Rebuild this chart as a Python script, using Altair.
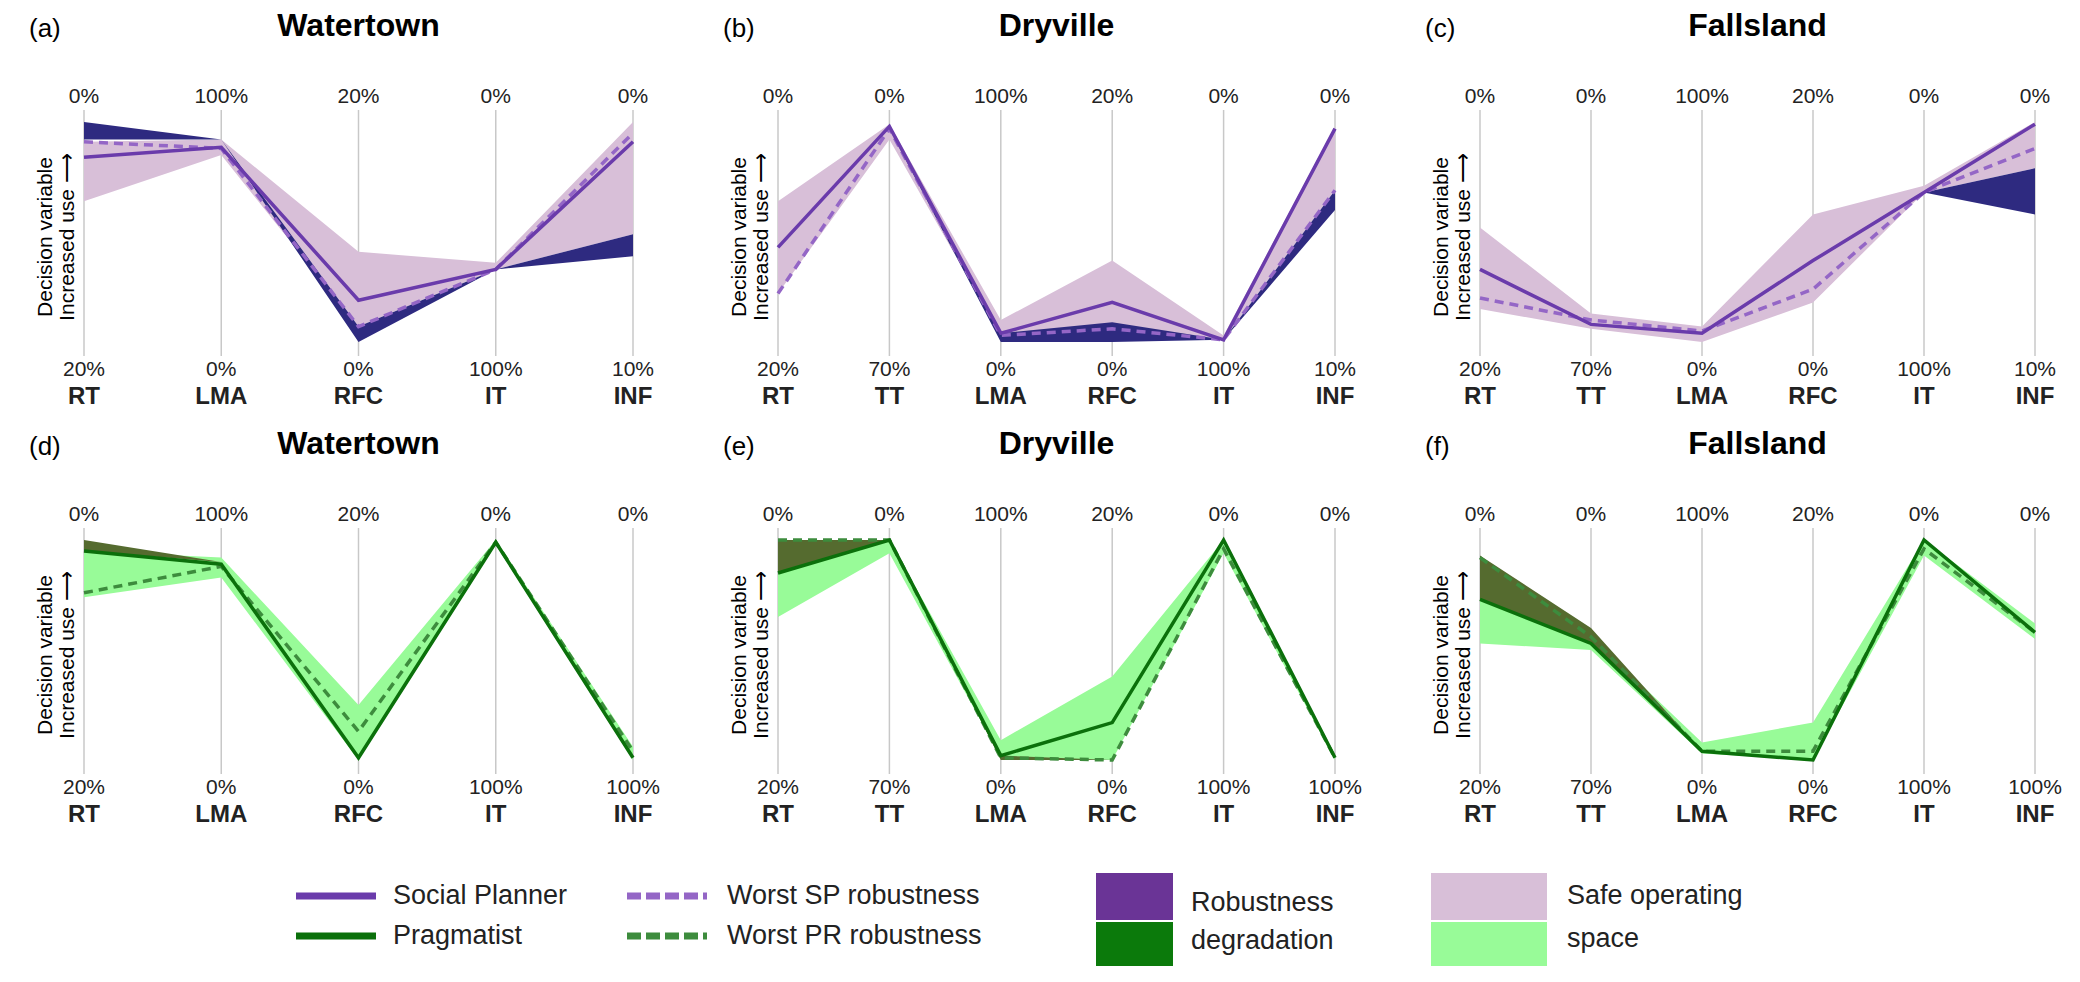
import altair as alt
import pandas as pd

FONT = "Liberation Sans"

# eixos de cada painel
nomes_5 = ["RT", "LMA", "RFC", "IT", "INF"]
nomes_6 = ["RT", "TT", "LMA", "RFC", "IT", "INF"]
topo_5 = ["0%", "100%", "20%", "0%", "0%"]
topo_6 = ["0%", "0%", "100%", "20%", "0%", "0%"]
base_a = ["20%", "0%", "0%", "100%", "10%"]
base_bc = ["20%", "70%", "0%", "0%", "100%", "10%"]
base_d = ["20%", "0%", "0%", "100%", "100%"]
base_ef = ["20%", "70%", "0%", "0%", "100%", "100%"]

# (a) Watertown - Social Planner
a_sp = [0.84, 0.885, 0.19, 0.33, 0.91]
a_worst = [0.91, 0.88, 0.07, 0.33, 0.95]
a_safe_hi = [0.91, 0.92, 0.41, 0.36, 1.0]
a_safe_lo = [0.64, 0.85, 0.07, 0.33, 0.49]
a_dark_hi = [1.0, 0.92, 0.07, 0.33, 0.49]
a_dark_lo = [0.92, 0.92, 0.0, 0.33, 0.39]
# (b) Dryville
b_sp = [0.43, 0.98, 0.04, 0.18, 0.01, 0.97]
b_worst = [0.22, 0.97, 0.03, 0.06, 0.01, 0.69]
b_safe_hi = [0.64, 0.99, 0.1, 0.37, 0.03, 0.98]
b_safe_lo = [0.22, 0.92, 0.03, 0.06, 0.01, 0.69]
b_dark_hi = [0.22, 0.97, 0.04, 0.09, 0.01, 0.69]
b_dark_lo = [0.22, 0.97, 0.0, 0.0, 0.01, 0.6]
# (c) Fallsland
c_sp = [0.33, 0.08, 0.04, 0.37, 0.68, 0.99]
c_worst = [0.2, 0.1, 0.05, 0.24, 0.68, 0.88]
c_safe_hi = [0.52, 0.13, 0.07, 0.58, 0.71, 1.0]
c_safe_lo = [0.15, 0.06, 0.0, 0.18, 0.68, 0.79]
c_dark_hi = [0.15, 0.06, 0.0, 0.18, 0.68, 0.79]
c_dark_lo = [0.15, 0.06, 0.0, 0.18, 0.68, 0.58]
# (d) Watertown - Pragmatist
d_sp = [0.95, 0.89, 0.01, 0.99, 0.01]
d_worst = [0.76, 0.88, 0.13, 0.99, 0.04]
d_safe_hi = [0.95, 0.92, 0.25, 1.0, 0.06]
d_safe_lo = [0.74, 0.83, 0.0, 0.98, 0.0]
d_dark_hi = [1.0, 0.9, 0.01, 0.99, 0.01]
d_dark_lo = [0.95, 0.9, 0.01, 0.99, 0.01]
# (e) Dryville
e_sp = [0.85, 1.0, 0.02, 0.17, 1.0, 0.01]
e_worst = [1.0, 1.0, 0.01, 0.0, 0.96, 0.01]
e_safe_hi = [0.85, 1.0, 0.09, 0.38, 1.0, 0.02]
e_safe_lo = [0.65, 0.94, 0.01, 0.0, 0.94, 0.0]
e_dark_hi = [1.0, 1.0, 0.02, 0.0, 1.0, 0.01]
e_dark_lo = [0.85, 1.0, 0.0, 0.0, 1.0, 0.01]
# (f) Fallsland
f_sp = [0.73, 0.53, 0.04, 0.0, 1.0, 0.58]
f_worst = [0.92, 0.56, 0.04, 0.04, 0.96, 0.58]
f_safe_hi = [0.73, 0.56, 0.08, 0.17, 1.0, 0.62]
f_safe_lo = [0.53, 0.5, 0.03, 0.0, 0.93, 0.55]
f_dark_hi = [0.93, 0.6, 0.04, 0.0, 1.0, 0.58]
f_dark_lo = [0.73, 0.53, 0.04, 0.0, 1.0, 0.58]

ROXO = dict(sp="#6a3bab", worst="#9466c6", safe="#d8bfd8", dark="#2e2a80")
VERDE = dict(sp="#0b700b", worst="#3d8c3d", safe="#98fb98", dark="#556b2f")
H = 220


def painel(letra, titulo, nomes, topo, base, sp, worst, shi, slo, dhi, dlo, cores, largura):
    n = len(nomes)
    df = pd.DataFrame(dict(i=list(range(n)), nome=nomes, topo=topo, base=base, sp=sp, worst=worst,
                           shi=shi, slo=slo, dhi=dhi, dlo=dlo))
    x = alt.X("i:Q", scale=alt.Scale(domain=[0, n - 1], nice=False), axis=None)
    ysc = alt.Scale(domain=[0, 1], nice=False)
    c = alt.Chart(df)
    regras = c.mark_rule(color="#c8c8c8", strokeWidth=1.5).encode(x=x, y=alt.value(-12), y2=alt.value(H + 14))
    seguro = c.mark_area(color=cores["safe"], opacity=1).encode(
        x=x, y=alt.Y("shi:Q", scale=ysc, axis=None), y2="slo:Q")
    escuro = c.mark_area(color=cores["dark"], opacity=1).encode(
        x=x, y=alt.Y("dhi:Q", scale=ysc, axis=None), y2="dlo:Q")
    l_sp = c.mark_line(color=cores["sp"], strokeWidth=3.5).encode(x=x, y=alt.Y("sp:Q", scale=ysc, axis=None))
    l_w = c.mark_line(color=cores["worst"], strokeWidth=3.5, strokeDash=[9, 6]).encode(
        x=x, y=alt.Y("worst:Q", scale=ysc, axis=None))
    t_topo = c.mark_text(font=FONT, fontSize=21, color="#222").encode(x=x, y=alt.value(-25), text="topo:N")
    t_base = c.mark_text(font=FONT, fontSize=21, color="#222").encode(x=x, y=alt.value(H + 28), text="base:N")
    t_nome = c.mark_text(font=FONT, fontSize=24, fontWeight="bold", color="#222").encode(
        x=x, y=alt.value(H + 55), text="nome:N")
    info = pd.DataFrame(dict(letra=[letra], titulo=[titulo]))
    ci = alt.Chart(info)
    t_letra = ci.mark_text(font=FONT, fontSize=26, align="left").encode(
        x=alt.value(-55), y=alt.value(-93), text="letra:N")
    t_tit = ci.mark_text(font=FONT, fontSize=32, fontWeight="bold").encode(
        x=alt.value(largura / 2), y=alt.value(-96), text="titulo:N")
    t_y1 = ci.mark_text(font=FONT, fontSize=21, angle=270).encode(
        x=alt.value(-38), y=alt.value(H / 2 + 5), text=alt.value("Decision variable"))
    t_y2 = ci.mark_text(font=FONT, fontSize=21, angle=270).encode(
        x=alt.value(-16), y=alt.value(H / 2 + 5), text=alt.value("Increased use \u27f6"))
    return [regras, seguro, escuro, l_w, l_sp, t_topo, t_base, t_nome, t_letra, t_tit, t_y1, t_y2]


pa = painel("(a)", "Watertown", nomes_5, topo_5, base_a, a_sp, a_worst, a_safe_hi, a_safe_lo, a_dark_hi, a_dark_lo, ROXO, 549)
pb = painel("(b)", "Dryville", nomes_6, topo_6, base_bc, b_sp, b_worst, b_safe_hi, b_safe_lo, b_dark_hi, b_dark_lo, ROXO, 557)
pc = painel("(c)", "Fallsland", nomes_6, topo_6, base_bc, c_sp, c_worst, c_safe_hi, c_safe_lo, c_dark_hi, c_dark_lo, ROXO, 555)
pd_ = painel("(d)", "Watertown", nomes_5, topo_5, base_d, d_sp, d_worst, d_safe_hi, d_safe_lo, d_dark_hi, d_dark_lo, VERDE, 549)
pe = painel("(e)", "Dryville", nomes_6, topo_6, base_ef, e_sp, e_worst, e_safe_hi, e_safe_lo, e_dark_hi, e_dark_lo, VERDE, 557)
pf = painel("(f)", "Fallsland", nomes_6, topo_6, base_ef, f_sp, f_worst, f_safe_hi, f_safe_lo, f_dark_hi, f_dark_lo, VERDE, 555)

# legenda (coordenadas da figura), desenhada junto ao painel (d)
leg_linhas = pd.DataFrame(dict(x=[296, 296, 627, 627], x2=[376, 376, 707, 707], y=[903, 943, 903, 943],
                               cor=[ROXO["sp"], VERDE["sp"], ROXO["worst"], VERDE["worst"]],
                               tracejado=[0, 0, 1, 1]))
leg_caixas = pd.DataFrame(dict(x=[1096, 1096, 1431, 1431], x2=[1173, 1173, 1547, 1547],
                               y=[880, 929, 880, 929], y2=[927, 973, 927, 973],
                               cor=["#6a3496", "#0b7a0b", "#d8bfd8", "#98fb98"]))
leg_textos = pd.DataFrame(dict(x=[393, 393, 727, 727, 1191, 1191, 1567, 1567], y=[903, 943, 903, 943, 910, 948, 903, 946],
                               t=["Social Planner", "Pragmatist", "Worst SP robustness", "Worst PR robustness",
                                  "Robustness", "degradation", "Safe operating", "space"]))
lx = alt.Scale(domain=[84, 2031], range=[0, 1947], nice=False)
ly = alt.Scale(domain=[880, 980], range=[333, 433], nice=False)
sol = alt.Chart(leg_linhas[leg_linhas.tracejado == 0]).mark_rule(strokeWidth=7).encode(
    x=alt.X("x:Q", scale=lx, axis=None), x2="x2:Q", y=alt.Y("y:Q", scale=ly, axis=None),
    color=alt.Color("cor:N", scale=None))
tra = alt.Chart(leg_linhas[leg_linhas.tracejado == 1]).mark_rule(strokeWidth=7, strokeDash=[14, 5]).encode(
    x=alt.X("x:Q", scale=lx, axis=None), x2="x2:Q", y=alt.Y("y:Q", scale=ly, axis=None),
    color=alt.Color("cor:N", scale=None))
cx = alt.Chart(leg_caixas).mark_rect().encode(
    x=alt.X("x:Q", scale=lx, axis=None), x2="x2:Q", y=alt.Y("y:Q", scale=ly, axis=None), y2="y2:Q",
    color=alt.Color("cor:N", scale=None))
tx = alt.Chart(leg_textos).mark_text(font=FONT, fontSize=27, align="left", color="#222").encode(
    x=alt.X("x:Q", scale=lx, axis=None), y=alt.Y("y:Q", scale=ly, axis=None), text="t:N")

legenda = alt.layer(sol, tra, cx, tx)
painel_d = alt.layer(alt.layer(*pd_), legenda).resolve_scale(x="independent", y="independent").properties(
    width=549, height=H)

paineis = [alt.layer(*pa).properties(width=549, height=H),
           alt.layer(*pb).properties(width=557, height=H),
           alt.layer(*pc).properties(width=555, height=H),
           painel_d,
           alt.layer(*pe).properties(width=557, height=H),
           alt.layer(*pf).properties(width=555, height=H)]

chart = alt.concat(*paineis, columns=3, spacing={"row": 198, "column": 145}, bounds="flush").properties(
    padding={"left": 21, "top": 2, "right": 5, "bottom": 5}
).configure_view(stroke=None)

chart.save("out.html", embed_options={"renderer": "svg", "actions": False})
